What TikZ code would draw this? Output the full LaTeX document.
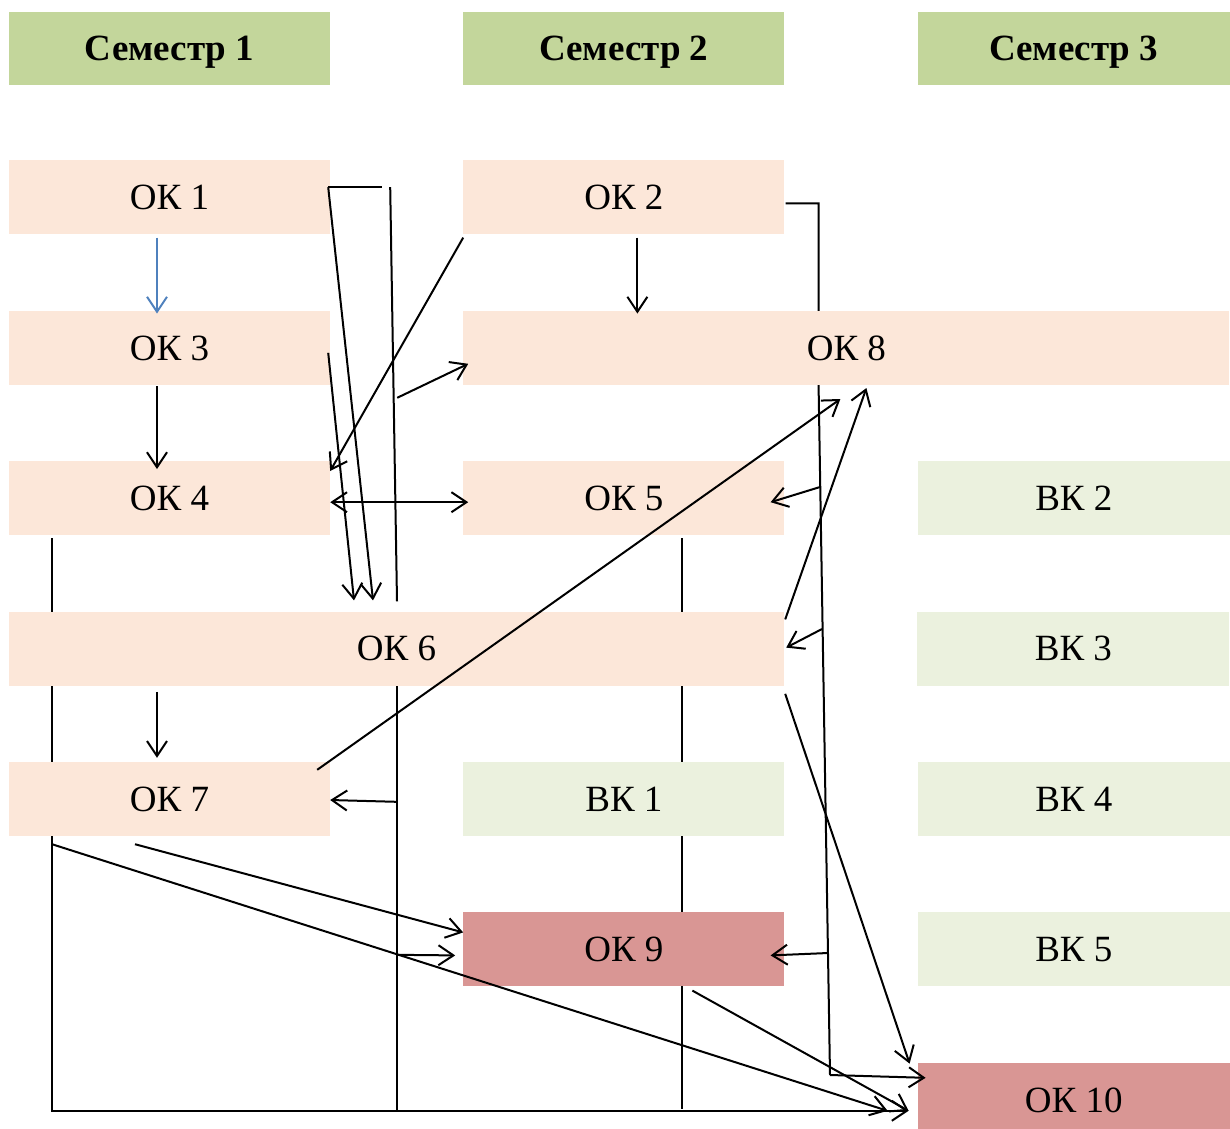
\documentclass[tikz,border=0pt]{standalone}
\usepackage{fontspec}
\setmainfont{Liberation Serif}
\usetikzlibrary{positioning, arrows.meta, backgrounds}
\definecolor{headgreen}{HTML}{C3D69B}
\definecolor{okpeach}{HTML}{FCE7D9}
\definecolor{vkgreen}{HTML}{EBF1DE}
\definecolor{okred}{HTML}{D99694}
\definecolor{linkblue}{HTML}{4F81BD}

\begin{document}
\begin{tikzpicture}[x=1pt, y=-1pt,
    node distance=76pt and 133pt,
    >={Straight Barb[length=15pt,width=20pt]},
    box/.style={rectangle, inner sep=0pt, minimum height=74pt, text depth=0pt, font=\fontsize{37}{44}\selectfont},
    head/.style={box, fill=headgreen, minimum height=73pt, minimum width=321pt, font=\bfseries\fontsize{37}{44}\selectfont},
    ok/.style={box, fill=okpeach, minimum width=321pt},
    vk/.style={box, fill=vkgreen, minimum width=312pt},
    exam/.style={box, fill=okred},
    wire/.style={line width=2pt},
    link/.style={wire, ->}]
\useasboundingbox (0,0) rectangle (1230,1128);

\node[head] (sem1) at (169.5,48.5) {Семестр 1};
\node[head, right=of sem1] (sem2) {Семестр 2};
\node[head, minimum width=312pt, right=of sem2] (sem3) {Семестр 3};

\node[ok, below=75pt of sem1] (ok1) {ОК 1};
\node[ok, right=of ok1] (ok2) {ОК 2};
\node[ok, below=of ok1] (ok3) {ОК 3};
\node[ok, minimum width=766pt, right=of ok3] (ok8) {ОК 8};
\node[ok, below=of ok3] (ok4) {ОК 4};
\node[ok, right=of ok4] (ok5) {ОК 5};
\node[vk, right=of ok5] (vk2) {ВК 2};
\node[ok, minimum width=775pt, below=of ok4.south west, anchor=north west] (ok6) {ОК 6};
\node[vk, right=of ok6] (vk3) {ВК 3};
\node[ok, below=of ok6.south west, anchor=north west] (ok7) {ОК 7};
\node[vk, minimum width=321pt, right=of ok7] (vk1) {ВК 1};
\node[vk, right=of vk1] (vk4) {ВК 4};
\node[exam, minimum width=321pt, below=of vk1] (ok9) {ОК 9};
\node[vk, right=of ok9] (vk5) {ВК 5};
\node[exam, minimum width=312pt, below=of vk5] (ok10) {ОК 10};

% trunk of the right side
\coordinate (rb) at (830,1075);
\coordinate (r5) at (820,487);
\coordinate (r6) at (822,629);
\coordinate (r9) at (828,953);

\begin{scope}[on background layer]
\draw[link] ([shift={(-117.5,3)}]ok4.south) |- ([shift={(-9,11)}]ok10.west);
\draw[wire] (ok6.south) -- ++(0,424);
\draw[wire] ([shift={(58.5,3)}]ok5.south) -- ++(0,571);
\draw[wire] ([shift={(1,6)}]ok2.east) -- ++(33,0) -- ++(0,184) -- (rb);
\end{scope}

% semester 1
\draw[link, linkblue] ([shift={(-12.5,3)}]ok1.south) -- ([shift={(-12.5,3)}]ok3.north);
\draw[link] ([shift={(-12.5,1)}]ok3.south) -- ([shift={(-12.5,8)}]ok4.north);
\draw[link] ([shift={(-12.5,-70)}]ok7.north) -- ([shift={(-12.5,-4)}]ok7.north);
\draw[wire] ([shift={(-2,27)}]ok1.north east) -- ++(54,0);
\draw[link] ([shift={(-2,27)}]ok1.north east) -- ([shift={(-23.5,-11)}]ok6.north);
\draw[wire] ([shift={(60,27)}]ok1.north east) -- ([shift={(0.5,-10)}]ok6.north);
\draw[link] ([shift={(67,50)}]ok3.east) -- ([shift={(5,16)}]ok8.west);
\draw[link] ([shift={(-2,5)}]ok3.east) -- ([shift={(-42.5,-11)}]ok6.north);
\draw[wire, <->] ([shift={(0,4)}]ok4.east) -- ([shift={(5,4)}]ok5.west);

% semester 2
\draw[link] ([shift={(0,3)}]ok2.south west) -- ([shift={(0,10)}]ok4.north east);
\draw[link] ([shift={(13.5,3)}]ok2.south) -- ([shift={(13.5,79)}]ok2.south);
\draw[link] (r5) -- ([shift={(-14,4)}]ok5.east);
\draw[link] (r6) -- ([shift={(2,-1)}]ok6.east);
\draw[link] (r9) -- ([shift={(-14,6)}]ok9.east);
\draw[link] (rb) -- ([shift={(8,-22)}]ok10.west);
\draw[link] ([shift={(0,116)}]ok6.south) -- ([shift={(0,1)}]ok7.east);
\draw[link] ([shift={(0,269)}]ok6.south) -- ([shift={(-8,6)}]ok9.west);

% long ones
\draw[link] ([shift={(-34.5,8)}]ok7.south) -- ([shift={(0,-17)}]ok9.west);
\draw[link] ([shift={(-117.5,8)}]ok7.south) -- ([shift={(-30,11)}]ok10.west);
\draw[link] ([shift={(-13,8)}]ok7.north east) -- ([shift={(-6,14)}]ok8.south);
\draw[link] ([shift={(68.5,4)}]ok9.south) -- ([shift={(-9,11)}]ok10.west);
\draw[link] ([shift={(1,8)}]ok6.north east) -- ([shift={(20,3)}]ok8.south);
\draw[link] ([shift={(1,8)}]ok6.south east) -- ([shift={(-8,1)}]ok10.north west);
\end{tikzpicture}
\end{document}
